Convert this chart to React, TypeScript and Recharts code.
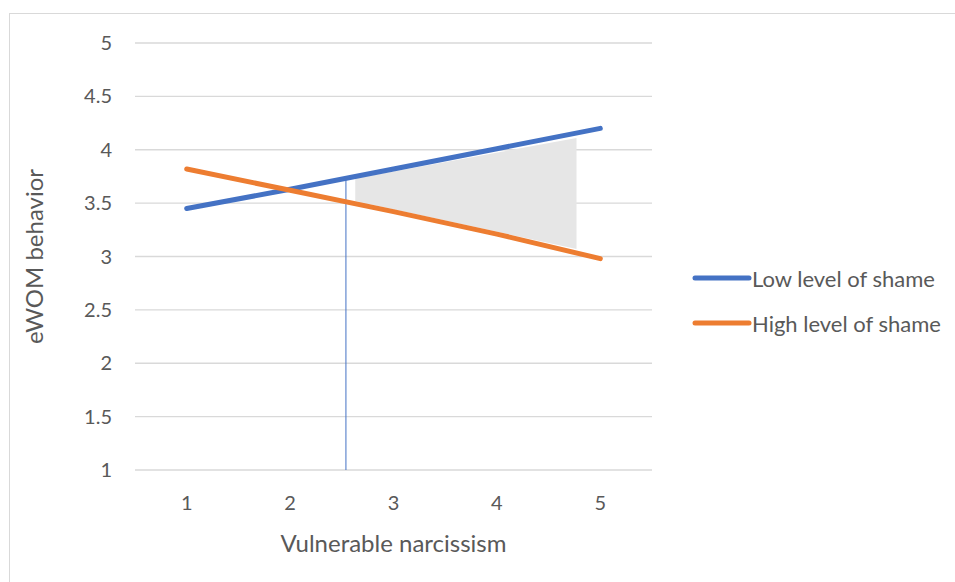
import React from "react";
import {
  Area,
  CartesianGrid,
  ComposedChart,
  Line,
  ReferenceLine,
  XAxis,
  YAxis,
} from "recharts";

const narcissism = [1, 2, 3, 4, 5];
const lowShame = [3.45, 3.63, 3.82, 4.01, 4.2];
const highShame = [3.82, 3.62, 3.42, 3.21, 2.98];
const yTicks = [1, 1.5, 2, 2.5, 3, 3.5, 4, 4.5, 5];

// shaded region of significance
const regionX = [2.63, 4.77];
const regionLow = [3.52, 3.07];
const regionHigh = [3.73, 4.11];
const cutoffX = 2.54;
const cutoffTop = 3.74;

const BLUE = "#4472C4";
const ORANGE = "#ED7D31";
const TEXT = "#595959";
const FONT = "Lato, 'Open Sans', sans-serif";

const lowData = narcissism.map((x, i) => ({ x, y: lowShame[i] }));
const highData = narcissism.map((x, i) => ({ x, y: highShame[i] }));
const regionData = regionX.map((x, i) => ({
  x,
  range: [regionLow[i], regionHigh[i]],
}));

const legendItems = [
  { name: "Low level of shame", color: BLUE },
  { name: "High level of shame", color: ORANGE },
];

export default function App() {
  return (
    <div
      style={{
        position: "absolute",
        left: 0,
        top: 0,
        width: 955,
        height: 582,
        overflow: "hidden",
        background: "#fff",
        fontFamily: FONT,
      }}
    >
      <div
        style={{
          position: "absolute",
          left: 9,
          top: 13,
          width: 1200,
          height: 1200,
          border: "1px solid #d9d9d9",
        }}
      />
      <ComposedChart
        width={955}
        height={582}
        margin={{ top: 43, right: 303, bottom: 0, left: 0 }}
        style={{ position: "absolute", left: 0, top: 0 }}
      >
        <CartesianGrid vertical={false} stroke="#d9d9d9" strokeWidth={1.3} />
        <XAxis
          type="number"
          dataKey="x"
          domain={[0.5, 5.5]}
          ticks={narcissism}
          allowDataOverflow
          height={112}
          axisLine={false}
          tickLine={false}
          tickMargin={20}
          tick={{ fill: TEXT, fontSize: 20, fontFamily: FONT }}
          label={{
            value: "Vulnerable narcissism",
            position: "insideBottom",
            offset: 30,
            fill: TEXT,
            fontSize: 24,
            fontFamily: FONT,
          }}
        />
        <YAxis
          type="number"
          domain={[1, 5]}
          ticks={yTicks}
          width={135}
          axisLine={false}
          tickLine={false}
          tickMargin={17}
          tick={{ fill: TEXT, fontSize: 20, fontFamily: FONT }}
          label={{
            value: "eWOM behavior",
            angle: -90,
            position: "insideLeft",
            offset: 0,
            dx: 34,
            fill: TEXT,
            fontSize: 24,
            fontFamily: FONT,
            style: { textAnchor: "middle" },
          }}
        />
        <Area
          data={regionData}
          dataKey="range"
          type="linear"
          stroke="none"
          fill="#e6e6e6"
          fillOpacity={1}
          isAnimationActive={false}
          activeDot={false}
        />
        <ReferenceLine
          segment={[
            { x: cutoffX, y: 1 },
            { x: cutoffX, y: cutoffTop },
          ]}
          stroke={BLUE}
          strokeWidth={1}
        />
        <Line
          data={lowData}
          dataKey="y"
          type="linear"
          stroke={BLUE}
          strokeWidth={5}
          strokeLinecap="round"
          dot={false}
          activeDot={false}
          isAnimationActive={false}
        />
        <Line
          data={highData}
          dataKey="y"
          type="linear"
          stroke={ORANGE}
          strokeWidth={5}
          strokeLinecap="round"
          dot={false}
          activeDot={false}
          isAnimationActive={false}
        />
      </ComposedChart>
      {legendItems.map((item, i) => (
        <div
          key={item.name}
          style={{
            position: "absolute",
            left: 692,
            top: 263 + i * 45,
            height: 30,
            display: "flex",
            alignItems: "center",
            color: TEXT,
            fontSize: 22,
            whiteSpace: "nowrap",
          }}
        >
          <svg width={60} height={10} style={{ display: "block" }}>
            <line
              x1={3}
              y1={5}
              x2={57}
              y2={5}
              stroke={item.color}
              strokeWidth={5}
              strokeLinecap="round"
            />
          </svg>
          <span>{item.name}</span>
        </div>
      ))}
    </div>
  );
}
